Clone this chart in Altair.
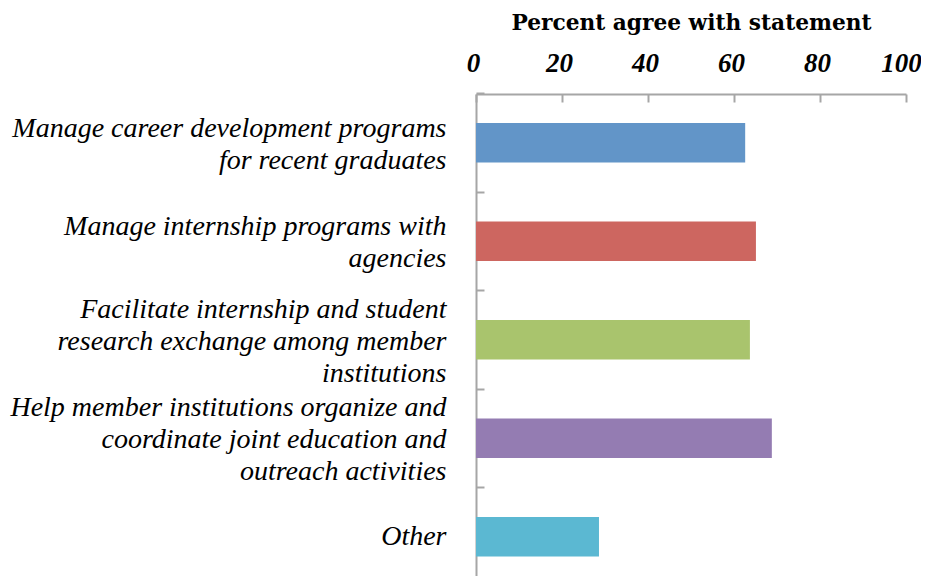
import altair as alt
import pandas as pd

categories = [
    "Manage career development programs|for recent graduates",
    "Manage internship programs with|agencies",
    "Facilitate internship and student|research exchange among member|institutions",
    "Help member institutions organize and|coordinate joint education and|outreach activities",
    "Other",
]
values = [62.6, 65.1, 63.7, 68.8, 28.6]
colors = ["#6295C8", "#CD6660", "#A9C46D", "#947CB2", "#5BB8D2"]
x_ticks = [0, 20, 40, 60, 80, 100]

df = pd.DataFrame({"cat": categories, "val": values})

SERIF = "Liberation Serif"
GRAY = "#A6A6A6"
W, H = 430, 482
LH = 32

yscale = alt.Scale(domain=categories, paddingInner=0.6, paddingOuter=0.247, align=0.597)
xscale = alt.Scale(domain=[0, 100], nice=False)

nlines = "length(split(datum.value, '|'))"
label_offset = {
    "condition": [
        {"test": f"{nlines} == 3", "value": -LH + 2},
        {"test": f"{nlines} == 2", "value": -LH / 2 + 2},
    ],
    "value": 0,
}
x_label_offset = {"condition": {"test": "datum.value == 100", "value": -5}, "value": -3}

base = alt.Chart(df)

bars = base.mark_bar().encode(
    x=alt.X("val:Q", scale=xscale,
            axis=alt.Axis(orient="top", values=x_ticks, title="Percent agree with statement",
                          ticks=False, tickSize=0, domain=True, domainColor=GRAY, domainWidth=2,
                          grid=False, labelFont=SERIF, labelFontSize=27, labelFontWeight="bold",
                          labelFontStyle="italic", labelColor="black", labelPadding=23,
                          labelBaseline="alphabetic", labelFlush=False,
                          labelOffset=x_label_offset,
                          titleFont="DejaVu Serif", titleFontSize=21.7, titleFontWeight="bold",
                          titleColor="black", titleBaseline="alphabetic",
                          titleX=W / 2, titleY=-65, titleAnchor="middle")),
    y=alt.Y("cat:N", scale=yscale, sort=categories,
            axis=alt.Axis(orient="left", title=None, ticks=False, tickSize=0, domain=True,
                          domainColor=GRAY, domainWidth=2, grid=False,
                          labelFont=SERIF, labelFontSize=28, labelFontStyle="italic",
                          labelColor="black", labelLimit=0, labelPadding=30,
                          labelLineHeight=LH, labelAlign="right", labelBaseline="middle",
                          labelOffset=label_offset,
                          labelExpr="split(datum.label, '|')")),
    color=alt.Color("cat:N", scale=alt.Scale(domain=categories, range=colors), legend=None),
)

ticks_layer = base.mark_bar(opacity=0).encode(
    x=alt.X("val:Q", scale=xscale,
            axis=alt.Axis(orient="bottom", offset=-H, values=x_ticks, title=None,
                          labels=False, domain=False, grid=False, ticks=True,
                          tickSize=8, tickColor=GRAY, tickWidth=2)),
    y=alt.Y("cat:N", scale=yscale, sort=categories,
            axis=alt.Axis(orient="right", offset=-W, title=None, labels=False,
                          domain=False, grid=False, ticks=True, tickOffset=-49.25,
                          tickSize=8, tickColor=GRAY, tickWidth=2)),
)

chart = alt.layer(bars, ticks_layer).resolve_axis(
    x="independent", y="independent"
).properties(
    width=W, height=H,
    autosize=alt.AutoSizeParams(type="none"),
    padding={"left": 468, "top": 86, "right": 15, "bottom": 0},
).configure_view(stroke=None)

chart.save("out.html", embed_options={"renderer": "svg", "actions": False})
